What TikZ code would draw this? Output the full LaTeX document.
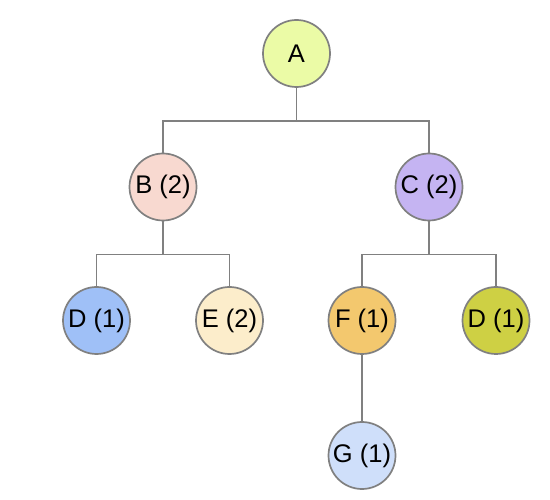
\documentclass[tikz,border=0pt]{standalone}
\usepackage{fontspec}
\setmainfont{Liberation Sans}
\definecolor{edgegray}{HTML}{808080}
\definecolor{cA}{HTML}{EBFBA6}
\definecolor{cB}{HTML}{F8D9D0}
\definecolor{cC}{HTML}{C5B4F2}
\definecolor{cD}{HTML}{9FC0F7}
\definecolor{cE}{HTML}{FCEDCB}
\definecolor{cF}{HTML}{F3C86E}
\definecolor{cDD}{HTML}{CED044}
\definecolor{cG}{HTML}{CFDFFA}
\begin{document}
\begin{tikzpicture}[x=1pt,y=-1pt,
  tnode/.style={circle,draw=edgegray,line width=1.7pt,minimum size=67pt,inner sep=0pt,font=\fontsize{25.5}{28}\selectfont},
  conn/.style={draw=edgegray,line width=1.7pt}]
\useasboundingbox (0,0) rectangle (550,500);
\node[tnode,fill=cA] (A) at (296.5,53.5) {A};
\node[tnode,fill=cB] (B) at (163,187) {B (2)};
\node[tnode,fill=cC] (C) at (429,187) {C (2)};
\node[tnode,fill=cD] (D) at (96.5,320.5) {D (1)};
\node[tnode,fill=cE] (E) at (229.5,320.5) {E (2)};
\node[tnode,fill=cF] (F) at (362,320.5) {F (1)};
\node[tnode,fill=cDD] (DD) at (496,320.5) {D (1)};
\node[tnode,fill=cG] (G) at (362,455.5) {G (1)};
\coordinate (jA) at (296.5,121);
\coordinate (jB) at (163,254.5);
\coordinate (jC) at (429,254.5);
\draw[conn] (A.south) -- (jA) -| (B.north);
\draw[conn] (jA) -| (C.north);
\draw[conn] (B.south) -- (jB) -| (D.north);
\draw[conn] (jB) -| (E.north);
\draw[conn] (C.south) -- (jC) -| (F.north);
\draw[conn] (jC) -| (DD.north);
\draw[conn] (F.south) -- (G.north);
\end{tikzpicture}
\end{document}
